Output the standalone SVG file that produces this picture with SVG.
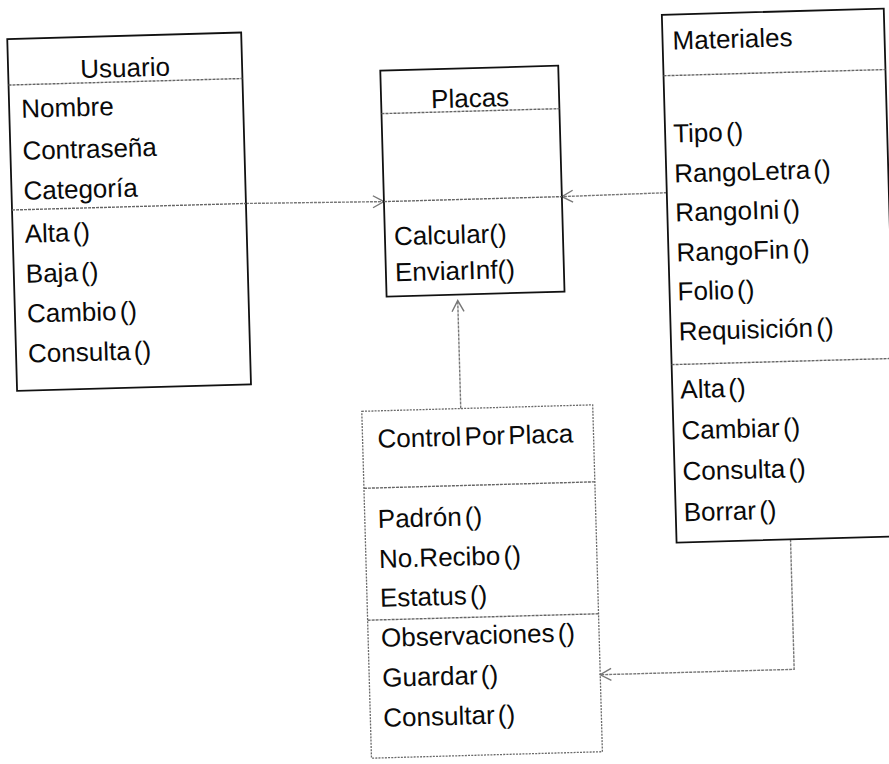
<svg xmlns="http://www.w3.org/2000/svg" width="889" height="764" viewBox="0 0 889 764">
<style>
.box{fill:none;stroke:#111;stroke-width:1.8}
.dbox{fill:none;stroke:#6a6a6a;stroke-width:1.3;stroke-dasharray:2 1.2}
.sep{stroke:#666;stroke-width:1.4;stroke-dasharray:3 1}
.conn{fill:none;stroke:#777;stroke-width:1.4;stroke-dasharray:3 1}
text{font-family:"Liberation Sans",Arial,sans-serif;font-size:26px;fill:#0a0a0a}
.ttl{text-anchor:middle}
.m{word-spacing:-4px}
</style>
<defs>
<marker id="arr" markerUnits="userSpaceOnUse" markerWidth="16" markerHeight="16" refX="12" refY="7" orient="auto">
<path d="M1,1 L12,7 L1,13" fill="none" stroke="#777" stroke-width="1.4"/>
</marker>
</defs>
<rect width="889" height="764" fill="#fff"/>
<g transform="rotate(-1.6 444 382)">
<g id="connectors">
<path class="conn" d="M251,198 L389,200" marker-end="url(#arr)"/>
<path class="conn" d="M672,199 L567,200" marker-end="url(#arr)"/>
<path class="conn" d="M460,409 L460,301" marker-end="url(#arr)"/>
<path class="conn" d="M786,549 L786,679 L592,679" marker-end="url(#arr)"/>
</g>
<g id="usuario">
<rect class="box" x="17" y="27" width="234" height="352"/>
<line class="sep" x1="17" y1="73" x2="251" y2="73"/>
<line class="sep" x1="17" y1="198" x2="251" y2="198"/>
<text class="ttl" x="134" y="68">Usuario</text>
<text x="29" y="106">Nombre</text>
<text x="29" y="148">Contraseña</text>
<text x="29" y="188">Categoría</text>
<text class="m" x="29" y="231">Alta ()</text>
<text class="m" x="29" y="271">Baja ()</text>
<text class="m" x="29" y="311">Cambio ()</text>
<text class="m" x="29" y="351">Consulta ()</text>
</g>
<g id="placas">
<rect class="box" x="389" y="69" width="178" height="226"/>
<line class="sep" x1="389" y1="112" x2="567" y2="112"/>
<line class="sep" x1="389" y1="200" x2="567" y2="200"/>
<text class="ttl" x="478" y="108">Placas</text>
<text x="398" y="244">Calcular()</text>
<text x="398" y="280">EnviarInf()</text>
</g>
<g id="materiales">
<rect class="box" x="672" y="21" width="222" height="528"/>
<line class="sep" x1="672" y1="82" x2="894" y2="82"/>
<line class="sep" x1="672" y1="371" x2="894" y2="371"/>
<text x="682" y="56">Materiales</text>
<text class="m" x="680" y="149">Tipo ()</text>
<text class="m" x="680" y="189">RangoLetra ()</text>
<text class="m" x="680" y="228">RangoIni ()</text>
<text class="m" x="680" y="268">RangoFin ()</text>
<text class="m" x="680" y="307">Folio ()</text>
<text class="m" x="680" y="347">Requisición ()</text>
<text class="m" x="680" y="405">Alta ()</text>
<text class="m" x="680" y="446">Cambiar ()</text>
<text class="m" x="680" y="487">Consulta ()</text>
<text class="m" x="680" y="528">Borrar ()</text>
</g>
<g id="control-por-placa">
<rect class="dbox" x="361" y="409" width="231" height="347"/>
<line class="sep" x1="361" y1="486" x2="592" y2="486"/>
<line class="sep" x1="361" y1="618" x2="592" y2="618"/>
<text class="m" x="376" y="446">Control Por Placa</text>
<text class="m" x="374" y="526">Padrón ()</text>
<text class="m" x="374" y="566">No.Recibo ()</text>
<text class="m" x="374" y="605">Estatus ()</text>
<text class="m" x="374" y="645">Observaciones ()</text>
<text class="m" x="374" y="685">Guardar ()</text>
<text class="m" x="374" y="725">Consultar ()</text>
</g>
</g>
</svg>
